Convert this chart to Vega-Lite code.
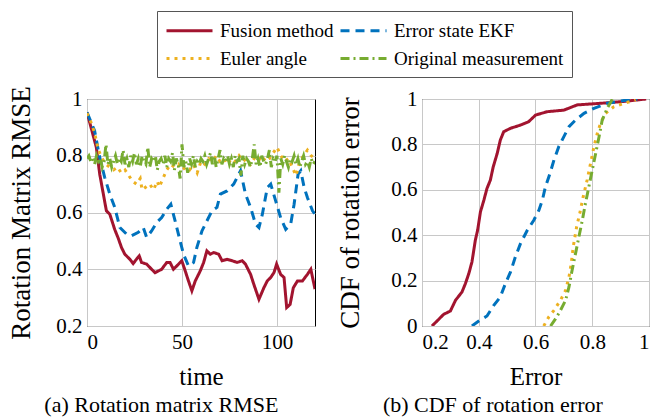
{
  "$schema": "https://vega.github.io/schema/vega-lite/v6.json",
  "padding": {"left": 7, "top": 10, "right": 6, "bottom": 4},
  "config": {
    "font": "Liberation Serif",
    "view": {"stroke": "black", "strokeWidth": 1},
    "axis": {"grid": true, "gridColor": "#c8c8c8", "gridWidth": 1, "domain": false, "ticks": false, "labelFontSize": 21, "labelColor": "black", "titleFontSize": 25, "titleFontWeight": "normal", "titleColor": "black", "labelPadding": 5, "labelFont": "Liberation Serif", "titleFont": "Liberation Serif"},
    "axisY": {"titleFontSize": 27},
    "title": {"fontSize": 22, "fontWeight": "normal", "orient": "bottom", "frame": "bounds", "offset": 6, "font": "Liberation Serif", "color": "black"},
    "legend": {"orient": "none", "legendX": 70, "legendY": -88, "columns": 2, "direction": "horizontal", "symbolType": "M-1,0H3.6", "symbolSize": 400, "symbolStrokeWidth": 3, "symbolFillColor": "transparent", "labelFontSize": 19, "labelFont": "Liberation Serif", "labelColor": "black", "labelLimit": 400, "strokeColor": "#555", "padding": 8, "columnPadding": 0, "rowPadding": 6, "labelOffset": 32, "title": null}
  },
  "datasets": {
    "rmse": [
      {"s": "Fusion method", "t": 0, "v": 0.953}, {"s": "Fusion method", "t": 4.9, "v": 0.83}, {"s": "Fusion method", "t": 6.7, "v": 0.735}, {"s": "Fusion method", "t": 10.2, "v": 0.606}, {"s": "Fusion method", "t": 12, "v": 0.594}, {"s": "Fusion method", "t": 14.6, "v": 0.54}, {"s": "Fusion method", "t": 16.4, "v": 0.51}, {"s": "Fusion method", "t": 18.2, "v": 0.476}, {"s": "Fusion method", "t": 19.9, "v": 0.453}, {"s": "Fusion method", "t": 22.6, "v": 0.435}, {"s": "Fusion method", "t": 24.3, "v": 0.42}, {"s": "Fusion method", "t": 26, "v": 0.435}, {"s": "Fusion method", "t": 27.5, "v": 0.447}, {"s": "Fusion method", "t": 28.7, "v": 0.424}, {"s": "Fusion method", "t": 31.4, "v": 0.418}, {"s": "Fusion method", "t": 34, "v": 0.4}, {"s": "Fusion method", "t": 35.8, "v": 0.388}, {"s": "Fusion method", "t": 37.6, "v": 0.394}, {"s": "Fusion method", "t": 39.3, "v": 0.4}, {"s": "Fusion method", "t": 42, "v": 0.424}, {"s": "Fusion method", "t": 43.7, "v": 0.424}, {"s": "Fusion method", "t": 45.5, "v": 0.4}, {"s": "Fusion method", "t": 47.3, "v": 0.412}, {"s": "Fusion method", "t": 49.9, "v": 0.43}, {"s": "Fusion method", "t": 51.7, "v": 0.394}, {"s": "Fusion method", "t": 53.4, "v": 0.359}, {"s": "Fusion method", "t": 55.2, "v": 0.324}, {"s": "Fusion method", "t": 57, "v": 0.359}, {"s": "Fusion method", "t": 59.6, "v": 0.394}, {"s": "Fusion method", "t": 61.4, "v": 0.424}, {"s": "Fusion method", "t": 63.1, "v": 0.465}, {"s": "Fusion method", "t": 64.9, "v": 0.453}, {"s": "Fusion method", "t": 66.7, "v": 0.459}, {"s": "Fusion method", "t": 69.3, "v": 0.453}, {"s": "Fusion method", "t": 71.1, "v": 0.43}, {"s": "Fusion method", "t": 73.7, "v": 0.435}, {"s": "Fusion method", "t": 76.4, "v": 0.43}, {"s": "Fusion method", "t": 79, "v": 0.424}, {"s": "Fusion method", "t": 81.7, "v": 0.43}, {"s": "Fusion method", "t": 83.4, "v": 0.418}, {"s": "Fusion method", "t": 86.1, "v": 0.382}, {"s": "Fusion method", "t": 87.8, "v": 0.347}, {"s": "Fusion method", "t": 90.5, "v": 0.294}, {"s": "Fusion method", "t": 93.1, "v": 0.335}, {"s": "Fusion method", "t": 94.9, "v": 0.359}, {"s": "Fusion method", "t": 96.7, "v": 0.371}, {"s": "Fusion method", "t": 98.4, "v": 0.388}, {"s": "Fusion method", "t": 99.8, "v": 0.418}, {"s": "Fusion method", "t": 101.9, "v": 0.382}, {"s": "Fusion method", "t": 103.7, "v": 0.371}, {"s": "Fusion method", "t": 105.1, "v": 0.265}, {"s": "Fusion method", "t": 106.9, "v": 0.276}, {"s": "Fusion method", "t": 108.6, "v": 0.335}, {"s": "Fusion method", "t": 110.8, "v": 0.359}, {"s": "Fusion method", "t": 113.4, "v": 0.359}, {"s": "Fusion method", "t": 116, "v": 0.382}, {"s": "Fusion method", "t": 117.8, "v": 0.4}, {"s": "Fusion method", "t": 120, "v": 0.33},
      {"s": "Error state EKF", "t": 0, "v": 0.953}, {"s": "Error state EKF", "t": 4, "v": 0.888}, {"s": "Error state EKF", "t": 6.7, "v": 0.794}, {"s": "Error state EKF", "t": 9.3, "v": 0.724}, {"s": "Error state EKF", "t": 12, "v": 0.665}, {"s": "Error state EKF", "t": 14.6, "v": 0.618}, {"s": "Error state EKF", "t": 17.3, "v": 0.547}, {"s": "Error state EKF", "t": 20.8, "v": 0.524}, {"s": "Error state EKF", "t": 23.5, "v": 0.518}, {"s": "Error state EKF", "t": 27, "v": 0.53}, {"s": "Error state EKF", "t": 29.6, "v": 0.547}, {"s": "Error state EKF", "t": 31.4, "v": 0.512}, {"s": "Error state EKF", "t": 34, "v": 0.535}, {"s": "Error state EKF", "t": 36.7, "v": 0.565}, {"s": "Error state EKF", "t": 39.3, "v": 0.582}, {"s": "Error state EKF", "t": 42, "v": 0.612}, {"s": "Error state EKF", "t": 44.1, "v": 0.629}, {"s": "Error state EKF", "t": 46.4, "v": 0.57}, {"s": "Error state EKF", "t": 49, "v": 0.5}, {"s": "Error state EKF", "t": 50.8, "v": 0.453}, {"s": "Error state EKF", "t": 53.4, "v": 0.412}, {"s": "Error state EKF", "t": 56.1, "v": 0.424}, {"s": "Error state EKF", "t": 57.8, "v": 0.476}, {"s": "Error state EKF", "t": 60.5, "v": 0.535}, {"s": "Error state EKF", "t": 63.1, "v": 0.57}, {"s": "Error state EKF", "t": 65.8, "v": 0.606}, {"s": "Error state EKF", "t": 68.4, "v": 0.618}, {"s": "Error state EKF", "t": 70.2, "v": 0.665}, {"s": "Error state EKF", "t": 73.7, "v": 0.676}, {"s": "Error state EKF", "t": 77.2, "v": 0.7}, {"s": "Error state EKF", "t": 80.8, "v": 0.747}, {"s": "Error state EKF", "t": 83.4, "v": 0.665}, {"s": "Error state EKF", "t": 86.1, "v": 0.618}, {"s": "Error state EKF", "t": 88.7, "v": 0.559}, {"s": "Error state EKF", "t": 90.5, "v": 0.547}, {"s": "Error state EKF", "t": 92.3, "v": 0.594}, {"s": "Error state EKF", "t": 94.9, "v": 0.688}, {"s": "Error state EKF", "t": 96.7, "v": 0.7}, {"s": "Error state EKF", "t": 99.3, "v": 0.641}, {"s": "Error state EKF", "t": 101.9, "v": 0.582}, {"s": "Error state EKF", "t": 104.6, "v": 0.541}, {"s": "Error state EKF", "t": 107.2, "v": 0.559}, {"s": "Error state EKF", "t": 109, "v": 0.629}, {"s": "Error state EKF", "t": 111.1, "v": 0.735}, {"s": "Error state EKF", "t": 112.5, "v": 0.747}, {"s": "Error state EKF", "t": 114.3, "v": 0.688}, {"s": "Error state EKF", "t": 116, "v": 0.653}, {"s": "Error state EKF", "t": 118.7, "v": 0.606}, {"s": "Error state EKF", "t": 120, "v": 0.594},
      {"s": "Euler angle", "t": 0, "v": 0.95}, {"s": "Euler angle", "t": 2, "v": 0.92}, {"s": "Euler angle", "t": 4, "v": 0.88}, {"s": "Euler angle", "t": 6, "v": 0.82}, {"s": "Euler angle", "t": 8, "v": 0.79}, {"s": "Euler angle", "t": 10, "v": 0.77}, {"s": "Euler angle", "t": 12, "v": 0.76}, {"s": "Euler angle", "t": 14, "v": 0.75}, {"s": "Euler angle", "t": 16, "v": 0.76}, {"s": "Euler angle", "t": 18, "v": 0.74}, {"s": "Euler angle", "t": 20, "v": 0.75}, {"s": "Euler angle", "t": 22, "v": 0.73}, {"s": "Euler angle", "t": 24, "v": 0.71}, {"s": "Euler angle", "t": 26, "v": 0.7}, {"s": "Euler angle", "t": 28, "v": 0.72}, {"s": "Euler angle", "t": 29, "v": 0.68}, {"s": "Euler angle", "t": 31, "v": 0.69}, {"s": "Euler angle", "t": 33, "v": 0.7}, {"s": "Euler angle", "t": 35, "v": 0.68}, {"s": "Euler angle", "t": 37, "v": 0.71}, {"s": "Euler angle", "t": 38, "v": 0.69}, {"s": "Euler angle", "t": 40, "v": 0.72}, {"s": "Euler angle", "t": 42, "v": 0.75}, {"s": "Euler angle", "t": 44, "v": 0.77}, {"s": "Euler angle", "t": 46, "v": 0.76}, {"s": "Euler angle", "t": 48, "v": 0.77}, {"s": "Euler angle", "t": 50, "v": 0.75}, {"s": "Euler angle", "t": 52, "v": 0.76}, {"s": "Euler angle", "t": 54, "v": 0.75}, {"s": "Euler angle", "t": 56, "v": 0.77}, {"s": "Euler angle", "t": 58, "v": 0.74}, {"s": "Euler angle", "t": 60, "v": 0.78}, {"s": "Euler angle", "t": 62, "v": 0.77}, {"s": "Euler angle", "t": 64, "v": 0.79}, {"s": "Euler angle", "t": 66, "v": 0.78}, {"s": "Euler angle", "t": 68, "v": 0.8}, {"s": "Euler angle", "t": 70, "v": 0.78}, {"s": "Euler angle", "t": 72, "v": 0.79}, {"s": "Euler angle", "t": 74, "v": 0.77}, {"s": "Euler angle", "t": 76, "v": 0.79}, {"s": "Euler angle", "t": 78, "v": 0.78}, {"s": "Euler angle", "t": 80, "v": 0.8}, {"s": "Euler angle", "t": 82, "v": 0.78}, {"s": "Euler angle", "t": 84, "v": 0.79}, {"s": "Euler angle", "t": 86, "v": 0.77}, {"s": "Euler angle", "t": 88, "v": 0.79}, {"s": "Euler angle", "t": 90, "v": 0.78}, {"s": "Euler angle", "t": 92, "v": 0.8}, {"s": "Euler angle", "t": 94, "v": 0.78}, {"s": "Euler angle", "t": 96, "v": 0.79}, {"s": "Euler angle", "t": 98, "v": 0.81}, {"s": "Euler angle", "t": 100, "v": 0.83}, {"s": "Euler angle", "t": 102, "v": 0.8}, {"s": "Euler angle", "t": 104, "v": 0.78}, {"s": "Euler angle", "t": 106, "v": 0.79}, {"s": "Euler angle", "t": 108, "v": 0.76}, {"s": "Euler angle", "t": 110, "v": 0.73}, {"s": "Euler angle", "t": 112, "v": 0.78}, {"s": "Euler angle", "t": 114, "v": 0.8}, {"s": "Euler angle", "t": 116, "v": 0.82}, {"s": "Euler angle", "t": 118, "v": 0.8}, {"s": "Euler angle", "t": 120, "v": 0.79},
      {"s": "Original measurement", "t": 0, "v": 0.79}, {"s": "Original measurement", "t": 1, "v": 0.8}, {"s": "Original measurement", "t": 2, "v": 0.78}, {"s": "Original measurement", "t": 3, "v": 0.79}, {"s": "Original measurement", "t": 4, "v": 0.77}, {"s": "Original measurement", "t": 5, "v": 0.8}, {"s": "Original measurement", "t": 6, "v": 0.78}, {"s": "Original measurement", "t": 7, "v": 0.79}, {"s": "Original measurement", "t": 8, "v": 0.76}, {"s": "Original measurement", "t": 9, "v": 0.78}, {"s": "Original measurement", "t": 10, "v": 0.84}, {"s": "Original measurement", "t": 11, "v": 0.77}, {"s": "Original measurement", "t": 12, "v": 0.79}, {"s": "Original measurement", "t": 13, "v": 0.76}, {"s": "Original measurement", "t": 14, "v": 0.78}, {"s": "Original measurement", "t": 15, "v": 0.8}, {"s": "Original measurement", "t": 16, "v": 0.77}, {"s": "Original measurement", "t": 17, "v": 0.79}, {"s": "Original measurement", "t": 18, "v": 0.78}, {"s": "Original measurement", "t": 19, "v": 0.82}, {"s": "Original measurement", "t": 20, "v": 0.77}, {"s": "Original measurement", "t": 21, "v": 0.79}, {"s": "Original measurement", "t": 22, "v": 0.76}, {"s": "Original measurement", "t": 23, "v": 0.8}, {"s": "Original measurement", "t": 24, "v": 0.78}, {"s": "Original measurement", "t": 25, "v": 0.81}, {"s": "Original measurement", "t": 26, "v": 0.77}, {"s": "Original measurement", "t": 27, "v": 0.79}, {"s": "Original measurement", "t": 28, "v": 0.76}, {"s": "Original measurement", "t": 29, "v": 0.8}, {"s": "Original measurement", "t": 30, "v": 0.78}, {"s": "Original measurement", "t": 31, "v": 0.77}, {"s": "Original measurement", "t": 32, "v": 0.83}, {"s": "Original measurement", "t": 33, "v": 0.76}, {"s": "Original measurement", "t": 34, "v": 0.79}, {"s": "Original measurement", "t": 35, "v": 0.78}, {"s": "Original measurement", "t": 36, "v": 0.8}, {"s": "Original measurement", "t": 37, "v": 0.75}, {"s": "Original measurement", "t": 38, "v": 0.78}, {"s": "Original measurement", "t": 39, "v": 0.79}, {"s": "Original measurement", "t": 40, "v": 0.77}, {"s": "Original measurement", "t": 41, "v": 0.8}, {"s": "Original measurement", "t": 42, "v": 0.76}, {"s": "Original measurement", "t": 43, "v": 0.79}, {"s": "Original measurement", "t": 44, "v": 0.78}, {"s": "Original measurement", "t": 45, "v": 0.81}, {"s": "Original measurement", "t": 46, "v": 0.75}, {"s": "Original measurement", "t": 47, "v": 0.79}, {"s": "Original measurement", "t": 48, "v": 0.77}, {"s": "Original measurement", "t": 49, "v": 0.72}, {"s": "Original measurement", "t": 50, "v": 0.84}, {"s": "Original measurement", "t": 51, "v": 0.76}, {"s": "Original measurement", "t": 52, "v": 0.78}, {"s": "Original measurement", "t": 53, "v": 0.74}, {"s": "Original measurement", "t": 54, "v": 0.79}, {"s": "Original measurement", "t": 55, "v": 0.77}, {"s": "Original measurement", "t": 56, "v": 0.8}, {"s": "Original measurement", "t": 57, "v": 0.76}, {"s": "Original measurement", "t": 58, "v": 0.78}, {"s": "Original measurement", "t": 59, "v": 0.77}, {"s": "Original measurement", "t": 60, "v": 0.79}, {"s": "Original measurement", "t": 61, "v": 0.78}, {"s": "Original measurement", "t": 62, "v": 0.8}, {"s": "Original measurement", "t": 63, "v": 0.77}, {"s": "Original measurement", "t": 64, "v": 0.79}, {"s": "Original measurement", "t": 65, "v": 0.81}, {"s": "Original measurement", "t": 66, "v": 0.77}, {"s": "Original measurement", "t": 67, "v": 0.8}, {"s": "Original measurement", "t": 68, "v": 0.76}, {"s": "Original measurement", "t": 69, "v": 0.79}, {"s": "Original measurement", "t": 70, "v": 0.82}, {"s": "Original measurement", "t": 71, "v": 0.77}, {"s": "Original measurement", "t": 72, "v": 0.79}, {"s": "Original measurement", "t": 73, "v": 0.78}, {"s": "Original measurement", "t": 74, "v": 0.8}, {"s": "Original measurement", "t": 75, "v": 0.77}, {"s": "Original measurement", "t": 76, "v": 0.79}, {"s": "Original measurement", "t": 77, "v": 0.76}, {"s": "Original measurement", "t": 78, "v": 0.8}, {"s": "Original measurement", "t": 79, "v": 0.78}, {"s": "Original measurement", "t": 80, "v": 0.79}, {"s": "Original measurement", "t": 81, "v": 0.73}, {"s": "Original measurement", "t": 82, "v": 0.8}, {"s": "Original measurement", "t": 83, "v": 0.77}, {"s": "Original measurement", "t": 84, "v": 0.79}, {"s": "Original measurement", "t": 85, "v": 0.78}, {"s": "Original measurement", "t": 86, "v": 0.76}, {"s": "Original measurement", "t": 87, "v": 0.79}, {"s": "Original measurement", "t": 88, "v": 0.84}, {"s": "Original measurement", "t": 89, "v": 0.77}, {"s": "Original measurement", "t": 90, "v": 0.79}, {"s": "Original measurement", "t": 91, "v": 0.76}, {"s": "Original measurement", "t": 92, "v": 0.8}, {"s": "Original measurement", "t": 93, "v": 0.78}, {"s": "Original measurement", "t": 94, "v": 0.77}, {"s": "Original measurement", "t": 95, "v": 0.79}, {"s": "Original measurement", "t": 96, "v": 0.82}, {"s": "Original measurement", "t": 97, "v": 0.76}, {"s": "Original measurement", "t": 98, "v": 0.79}, {"s": "Original measurement", "t": 99, "v": 0.78}, {"s": "Original measurement", "t": 100, "v": 0.8}, {"s": "Original measurement", "t": 101, "v": 0.67}, {"s": "Original measurement", "t": 102, "v": 0.79}, {"s": "Original measurement", "t": 103, "v": 0.77}, {"s": "Original measurement", "t": 104, "v": 0.8}, {"s": "Original measurement", "t": 105, "v": 0.78}, {"s": "Original measurement", "t": 106, "v": 0.76}, {"s": "Original measurement", "t": 107, "v": 0.79}, {"s": "Original measurement", "t": 108, "v": 0.78}, {"s": "Original measurement", "t": 109, "v": 0.8}, {"s": "Original measurement", "t": 110, "v": 0.77}, {"s": "Original measurement", "t": 111, "v": 0.79}, {"s": "Original measurement", "t": 112, "v": 0.76}, {"s": "Original measurement", "t": 113, "v": 0.78}, {"s": "Original measurement", "t": 114, "v": 0.8}, {"s": "Original measurement", "t": 115, "v": 0.77}, {"s": "Original measurement", "t": 116, "v": 0.78}, {"s": "Original measurement", "t": 117, "v": 0.76}, {"s": "Original measurement", "t": 118, "v": 0.79}, {"s": "Original measurement", "t": 119, "v": 0.77}, {"s": "Original measurement", "t": 120, "v": 0.78}
    ],
    "cdf": [
      {"s": "Fusion method", "e": 0.235, "p": 0}, {"s": "Fusion method", "e": 0.253, "p": 0.022}, {"s": "Fusion method", "e": 0.276, "p": 0.051}, {"s": "Fusion method", "e": 0.3, "p": 0.066}, {"s": "Fusion method", "e": 0.318, "p": 0.113}, {"s": "Fusion method", "e": 0.341, "p": 0.15}, {"s": "Fusion method", "e": 0.353, "p": 0.187}, {"s": "Fusion method", "e": 0.365, "p": 0.231}, {"s": "Fusion method", "e": 0.376, "p": 0.282}, {"s": "Fusion method", "e": 0.388, "p": 0.378}, {"s": "Fusion method", "e": 0.396, "p": 0.422}, {"s": "Fusion method", "e": 0.406, "p": 0.503}, {"s": "Fusion method", "e": 0.418, "p": 0.554}, {"s": "Fusion method", "e": 0.429, "p": 0.606}, {"s": "Fusion method", "e": 0.441, "p": 0.643}, {"s": "Fusion method", "e": 0.451, "p": 0.701}, {"s": "Fusion method", "e": 0.465, "p": 0.76}, {"s": "Fusion method", "e": 0.476, "p": 0.819}, {"s": "Fusion method", "e": 0.488, "p": 0.856}, {"s": "Fusion method", "e": 0.512, "p": 0.871}, {"s": "Fusion method", "e": 0.547, "p": 0.885}, {"s": "Fusion method", "e": 0.576, "p": 0.9}, {"s": "Fusion method", "e": 0.6, "p": 0.929}, {"s": "Fusion method", "e": 0.641, "p": 0.944}, {"s": "Fusion method", "e": 0.7, "p": 0.951}, {"s": "Fusion method", "e": 0.747, "p": 0.974}, {"s": "Fusion method", "e": 0.829, "p": 0.981}, {"s": "Fusion method", "e": 0.9, "p": 0.988}, {"s": "Fusion method", "e": 0.99, "p": 1},
      {"s": "Error state EKF", "e": 0.376, "p": 0}, {"s": "Error state EKF", "e": 0.4, "p": 0.022}, {"s": "Error state EKF", "e": 0.429, "p": 0.044}, {"s": "Error state EKF", "e": 0.453, "p": 0.091}, {"s": "Error state EKF", "e": 0.476, "p": 0.128}, {"s": "Error state EKF", "e": 0.494, "p": 0.187}, {"s": "Error state EKF", "e": 0.512, "p": 0.238}, {"s": "Error state EKF", "e": 0.529, "p": 0.304}, {"s": "Error state EKF", "e": 0.547, "p": 0.363}, {"s": "Error state EKF", "e": 0.571, "p": 0.422}, {"s": "Error state EKF", "e": 0.594, "p": 0.466}, {"s": "Error state EKF", "e": 0.612, "p": 0.51}, {"s": "Error state EKF", "e": 0.624, "p": 0.554}, {"s": "Error state EKF", "e": 0.635, "p": 0.613}, {"s": "Error state EKF", "e": 0.651, "p": 0.672}, {"s": "Error state EKF", "e": 0.665, "p": 0.731}, {"s": "Error state EKF", "e": 0.682, "p": 0.79}, {"s": "Error state EKF", "e": 0.7, "p": 0.834}, {"s": "Error state EKF", "e": 0.718, "p": 0.878}, {"s": "Error state EKF", "e": 0.741, "p": 0.907}, {"s": "Error state EKF", "e": 0.771, "p": 0.937}, {"s": "Error state EKF", "e": 0.806, "p": 0.959}, {"s": "Error state EKF", "e": 0.853, "p": 0.981}, {"s": "Error state EKF", "e": 0.912, "p": 0.993}, {"s": "Error state EKF", "e": 0.959, "p": 1},
      {"s": "Euler angle", "e": 0.629, "p": 0}, {"s": "Euler angle", "e": 0.647, "p": 0.04}, {"s": "Euler angle", "e": 0.665, "p": 0.069}, {"s": "Euler angle", "e": 0.688, "p": 0.113}, {"s": "Euler angle", "e": 0.706, "p": 0.157}, {"s": "Euler angle", "e": 0.718, "p": 0.216}, {"s": "Euler angle", "e": 0.726, "p": 0.275}, {"s": "Euler angle", "e": 0.733, "p": 0.349}, {"s": "Euler angle", "e": 0.745, "p": 0.437}, {"s": "Euler angle", "e": 0.756, "p": 0.496}, {"s": "Euler angle", "e": 0.768, "p": 0.569}, {"s": "Euler angle", "e": 0.782, "p": 0.643}, {"s": "Euler angle", "e": 0.794, "p": 0.716}, {"s": "Euler angle", "e": 0.806, "p": 0.79}, {"s": "Euler angle", "e": 0.818, "p": 0.849}, {"s": "Euler angle", "e": 0.829, "p": 0.893}, {"s": "Euler angle", "e": 0.847, "p": 0.937}, {"s": "Euler angle", "e": 0.876, "p": 0.966}, {"s": "Euler angle", "e": 0.912, "p": 0.981}, {"s": "Euler angle", "e": 0.953, "p": 0.996},
      {"s": "Original measurement", "e": 0.653, "p": 0}, {"s": "Original measurement", "e": 0.671, "p": 0.032}, {"s": "Original measurement", "e": 0.688, "p": 0.069}, {"s": "Original measurement", "e": 0.706, "p": 0.113}, {"s": "Original measurement", "e": 0.718, "p": 0.172}, {"s": "Original measurement", "e": 0.729, "p": 0.246}, {"s": "Original measurement", "e": 0.741, "p": 0.319}, {"s": "Original measurement", "e": 0.753, "p": 0.393}, {"s": "Original measurement", "e": 0.765, "p": 0.466}, {"s": "Original measurement", "e": 0.776, "p": 0.54}, {"s": "Original measurement", "e": 0.788, "p": 0.613}, {"s": "Original measurement", "e": 0.8, "p": 0.687}, {"s": "Original measurement", "e": 0.812, "p": 0.76}, {"s": "Original measurement", "e": 0.824, "p": 0.834}, {"s": "Original measurement", "e": 0.835, "p": 0.907}, {"s": "Original measurement", "e": 0.853, "p": 0.959}, {"s": "Original measurement", "e": 0.871, "p": 1}
    ]
  },
  "spacing": 20,
  "hconcat": [
    {
      "width": 228,
      "height": 227,
      "title": {"text": "(a) Rotation matrix RMSE"},
      "data": {"name": "rmse"},
      "mark": {"type": "line", "strokeWidth": 3, "clip": true},
      "encoding": {
        "x": {"field": "t", "type": "quantitative", "title": "time", "scale": {"domain": [0, 120], "nice": false}, "axis": {"values": [0, 50, 100], "titlePadding": 12}},
        "y": {"field": "v", "type": "quantitative", "title": "Rotation Matrix RMSE", "scale": {"domain": [0.2, 1], "nice": false}, "axis": {"values": [0.2, 0.4, 0.6, 0.8, 1], "format": "~g", "titlePadding": 20}},
        "color": {"field": "s", "type": "nominal", "sort": ["Fusion method", "Error state EKF", "Euler angle", "Original measurement"], "scale": {"domain": ["Fusion method", "Error state EKF", "Euler angle", "Original measurement"], "range": ["#A2142F", "#0072BD", "#EDB120", "#77AC30"]}, "legend": {"title": null}},
        "strokeDash": {"field": "s", "type": "nominal", "sort": ["Fusion method", "Error state EKF", "Euler angle", "Original measurement"], "scale": {"domain": ["Fusion method", "Error state EKF", "Euler angle", "Original measurement"], "range": [[1, 0], [9, 6], [3, 5], [9, 4, 2, 4]]}, "legend": {"title": null}},
        "order": {"field": "t", "type": "quantitative"}
      }
    },
    {
      "width": 227,
      "height": 227,
      "title": {"text": "(b) CDF of rotation error"},
      "data": {"name": "cdf"},
      "mark": {"type": "line", "strokeWidth": 3, "clip": true},
      "encoding": {
        "x": {"field": "e", "type": "quantitative", "title": "Error", "scale": {"domain": [0.2, 1], "nice": false}, "axis": {"values": [0.2, 0.4, 0.6, 0.8, 1], "format": "~g", "titlePadding": 12}},
        "y": {"field": "p", "type": "quantitative", "title": "CDF of rotation error", "scale": {"domain": [0, 1], "nice": false}, "axis": {"values": [0, 0.2, 0.4, 0.6, 0.8, 1], "format": "~g", "titlePadding": 26}},
        "color": {"field": "s", "type": "nominal", "sort": ["Fusion method", "Error state EKF", "Euler angle", "Original measurement"], "scale": {"domain": ["Fusion method", "Error state EKF", "Euler angle", "Original measurement"], "range": ["#A2142F", "#0072BD", "#EDB120", "#77AC30"]}, "legend": {"title": null}},
        "strokeDash": {"field": "s", "type": "nominal", "sort": ["Fusion method", "Error state EKF", "Euler angle", "Original measurement"], "scale": {"domain": ["Fusion method", "Error state EKF", "Euler angle", "Original measurement"], "range": [[1, 0], [9, 6], [3, 5], [9, 4, 2, 4]]}, "legend": {"title": null}},
        "order": {"field": "e", "type": "quantitative"}
      }
    }
  ]
}
